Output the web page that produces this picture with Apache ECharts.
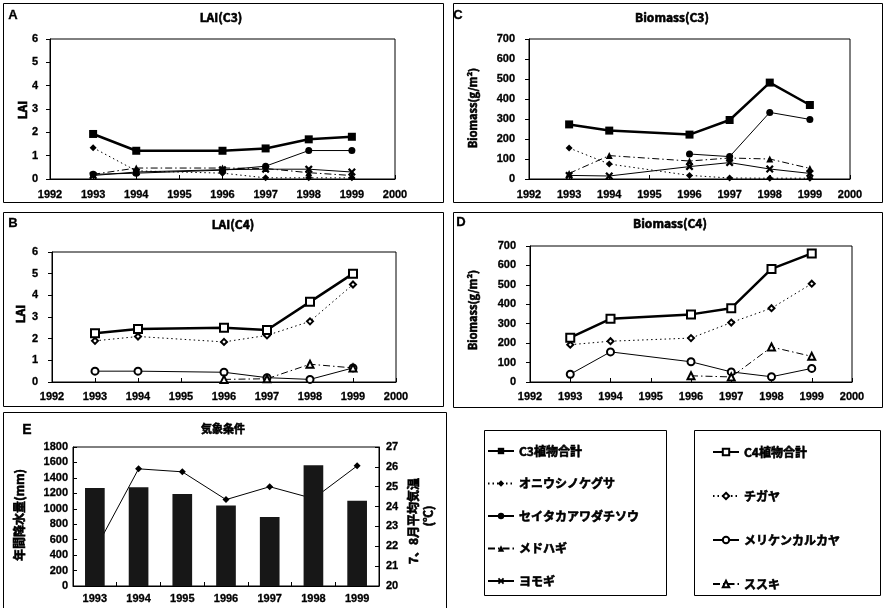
<!DOCTYPE html>
<html>
<head>
<meta charset="utf-8">
<script src="https://cdn.jsdelivr.net/npm/echarts@6/dist/echarts.min.js"></script>
<style>
html,body{margin:0;padding:0;background:#fff;}
#chart{width:885px;height:608px;}
</style>
</head>
<body>
<div id="chart"></div>
<script>
// ---------- DATA ----------
const years = [1993, 1994, 1996, 1997, 1998, 1999];
const xTickMin = 1992, xTickMax = 2000;

// LAI (C3)
const laiC3Total  = [1.93, 1.21, 1.21, 1.31, 1.70, 1.81];
const laiOniushi  = [1.34, 0.35, 0.25, 0.05, 0.05, 0.05];
const laiSeitaka  = [0.20, 0.25, 0.38, 0.55, 1.22, 1.22];
const laiMedohagi = [0.20, 0.47, 0.47, 0.45, 0.27, 0.15];
const laiYomogi   = [0.15, 0.30, 0.40, 0.42, 0.42, 0.30];

// Biomass (C3)
const bmC3Total  = [273, 242, 222, 295, 482, 370];
const bmOniushi  = [155, 75, 18, 5, 4, 4];
const bmSeitaka  = [null, null, 125, 112, 333, 298];
const bmMedohagi = [28, 117, 90, 105, 100, 53];
const bmYomogi   = [18, 15, 62, 82, 50, 28];

// LAI (C4)
const laiC4Total = [2.25, 2.45, 2.50, 2.40, 3.70, 5.00];
const laiChigaya = [1.90, 2.10, 1.85, 2.15, 2.80, 4.50];
const laiMeriken = [0.50, 0.50, 0.45, 0.20, 0.12, 0.65];
const laiSusuki  = [null, null, 0.12, 0.15, 0.82, 0.65];

// Biomass (C4)
const bmC4Total = [228, 325, 348, 380, 582, 662];
const bmChigaya = [192, 210, 226, 306, 380, 506];
const bmMeriken = [40, 155, 104, 52, 27, 70];
const bmSusuki  = [null, null, 32, 26, 180, 132];

// Weather (E)
const weatherYears = ['1993', '1994', '1995', '1996', '1997', '1998', '1999'];
const rainfall     = [1268, 1278, 1190, 1042, 892, 1563, 1104];
const temperature  = [21.8, 25.9, 25.75, 24.35, 25.0, 24.4, 26.05];

// Names
const N = {
  c3: 'C3植物合計', oni: 'オニウシノケグサ', sei: 'セイタカアワダチソウ', med: 'メドハギ', yom: 'ヨモギ',
  c4: 'C4植物合計', chi: 'チガヤ', mer: 'メリケンカルカヤ', sus: 'ススキ'
};

// ---------- STYLES ----------
const NUMFONT = '"Liberation Sans", Arial, sans-serif';
const JPFONT = '"Noto Sans CJK JP", sans-serif';
const dotted = [1.5, 3];
const dashdot = [7, 3, 1.5, 3];
const xPath = 'path://M2,0L5,3L8,0L10,2L7,5L10,8L8,10L5,7L2,10L0,8L3,5L0,2Z';

const STY = {
  c3:  {symbol: 'rect', symbolSize: 8, lineStyle: {color: '#000', width: 2.5, type: 'solid'}, itemStyle: {color: '#000'}},
  c4:  {symbol: 'emptyRect', symbolSize: 8, lineStyle: {color: '#000', width: 2.5, type: 'solid'}, itemStyle: {color: '#000', borderColor: '#000', borderWidth: 1.2}},
  oni: {symbol: 'diamond', symbolSize: 7, lineStyle: {color: '#000', width: 1, type: dotted}, itemStyle: {color: '#000'}},
  sei: {symbol: 'circle', symbolSize: 7, lineStyle: {color: '#000', width: 1, type: 'solid'}, itemStyle: {color: '#000'}},
  med: {symbol: 'triangle', symbolSize: 7, lineStyle: {color: '#000', width: 1, type: dashdot}, itemStyle: {color: '#000'}},
  yom: {symbol: xPath, symbolSize: 8, lineStyle: {color: '#000', width: 1, type: 'solid'}, itemStyle: {color: '#000'}},
  chi: {symbol: 'emptyDiamond', symbolSize: 6, lineStyle: {color: '#000', width: 1, type: dotted}, itemStyle: {color: '#000', borderColor: '#000', borderWidth: 1}},
  mer: {symbol: 'emptyCircle', symbolSize: 7, lineStyle: {color: '#000', width: 1, type: 'solid'}, itemStyle: {color: '#000', borderColor: '#000', borderWidth: 1}},
  sus: {symbol: 'emptyTriangle', symbolSize: 7, lineStyle: {color: '#000', width: 1, type: dashdot}, itemStyle: {color: '#000', borderColor: '#000', borderWidth: 1}}
};

function mk(key, gi, vals, z) {
  const data = years.map((y, i) => [y, vals[i]]).filter(d => d[1] !== null);
  return Object.assign({type: 'line', name: N[key], xAxisIndex: gi, yAxisIndex: gi, data: data, z: z || 3, animation: false}, JSON.parse(JSON.stringify(STY[key])));
}

// ---------- LAYOUT ----------
const grids = [
  {left: 50, top: 39, width: 345, height: 140},   // A
  {left: 529, top: 39, width: 321, height: 140},  // C
  {left: 52, top: 252, width: 344, height: 130},  // B
  {left: 530, top: 246, width: 322, height: 136}, // D
  {left: 73, top: 447, width: 306, height: 139}   // E
];
grids.forEach(g => { g.show = true; g.borderColor = '#000'; g.borderWidth = 1; g.backgroundColor = 'transparent'; });

const numLabel = (m) => ({fontFamily: NUMFONT, fontWeight: 'bold', fontSize: 11, color: '#000', margin: m,
  textBorderColor: '#000', textBorderWidth: 0.3, formatter: v => String(v)});

function yearAxis(gi, margin) {
  return {type: 'value', gridIndex: gi, min: xTickMin, max: xTickMax, interval: 1,
    axisLine: {show: true, lineStyle: {color: '#000'}}, axisTick: {show: true, inside: true, length: 4, lineStyle: {color: '#000'}},
    splitLine: {show: false}, axisLabel: numLabel(margin)};
}
function valAxis(gi, max, interval, margin) {
  return {type: 'value', gridIndex: gi, min: 0, max: max, interval: interval,
    axisLine: {show: true, lineStyle: {color: '#000'}}, axisTick: {show: true, inside: false, length: 4, lineStyle: {color: '#000'}},
    splitLine: {show: false}, axisLabel: numLabel(margin)};
}

const xAxes = [yearAxis(0, 10), yearAxis(1, 10), yearAxis(2, 9), yearAxis(3, 9),
  {type: 'category', gridIndex: 4, data: weatherYears, boundaryGap: true,
   axisLine: {show: true, lineStyle: {color: '#000'}}, axisTick: {show: true, inside: true, length: 4, lineStyle: {color: '#000'}},
   axisLabel: {fontFamily: NUMFONT, fontWeight: 'bold', fontSize: 11, color: '#000', margin: 7, textBorderColor: '#000', textBorderWidth: 0.3}}];

const yAxes = [valAxis(0, 6, 1, 12), valAxis(1, 700, 100, 14), valAxis(2, 6, 1, 14), valAxis(3, 700, 100, 14),
  {type: 'value', gridIndex: 4, min: 0, max: 1800, interval: 200,
   axisLine: {show: true, lineStyle: {color: '#000'}}, axisTick: {show: true, inside: true, length: 4, lineStyle: {color: '#000'}},
   splitLine: {show: false}, axisLabel: numLabel(5)},
  {type: 'value', gridIndex: 4, position: 'right', min: 20, max: 27, interval: 1,
   axisLine: {show: true, lineStyle: {color: '#000'}}, axisTick: {show: true, inside: true, length: 4, lineStyle: {color: '#000'}},
   splitLine: {show: false}, axisLabel: numLabel(7)}];

const series = [
  // A: LAI C3
  mk('oni', 0, laiOniushi), mk('sei', 0, laiSeitaka), mk('med', 0, laiMedohagi), mk('yom', 0, laiYomogi), mk('c3', 0, laiC3Total, 5),
  // C: Biomass C3
  mk('oni', 1, bmOniushi), mk('sei', 1, bmSeitaka), mk('med', 1, bmMedohagi), mk('yom', 1, bmYomogi), mk('c3', 1, bmC3Total, 5),
  // B: LAI C4
  mk('chi', 2, laiChigaya), mk('mer', 2, laiMeriken), mk('sus', 2, laiSusuki), mk('c4', 2, laiC4Total, 5),
  // D: Biomass C4
  mk('chi', 3, bmChigaya), mk('mer', 3, bmMeriken), mk('sus', 3, bmSusuki), mk('c4', 3, bmC4Total, 5),
  // E: weather
  {type: 'line', name: '7、8月平均気温', xAxisIndex: 4, yAxisIndex: 5, data: temperature, z: 2,
   symbol: 'diamond', symbolSize: 7, lineStyle: {color: '#000', width: 1}, itemStyle: {color: '#000'}},
  {type: 'bar', name: '年間降水量', xAxisIndex: 4, yAxisIndex: 4, data: rainfall, z: 3, barWidth: '45%',
   itemStyle: {color: '#171717'}}
];

function txt(x, y, text, size, rot, font, sw) {
  return {type: 'text', x: x, y: y, rotation: rot || 0, z: 100,
    style: {text: text, font: 'bold ' + size + 'px ' + (font || JPFONT), fill: '#000',
      stroke: '#000', lineWidth: (sw === undefined ? 0.6 : sw),
      align: 'center', verticalAlign: 'middle', textAlign: 'center', textVerticalAlign: 'middle'}};
}
function box(x1, y1, x2, y2) {
  return {type: 'rect', shape: {x: x1 + 0.5, y: y1 + 0.5, width: x2 - x1, height: y2 - y1}, z: 0,
    style: {fill: 'none', stroke: '#000', lineWidth: 1}};
}
const R = Math.PI / 2;
const graphic = [
  box(3, 3, 443, 202), box(453, 3, 882, 202), box(3, 212, 443, 406), box(453, 212, 882, 407), box(3, 412, 446, 640),
  box(484, 430, 666, 595), box(694, 430, 880, 595),
  txt(13, 15, 'A', 13, 0, NUMFONT, 0.3), txt(221, 17, 'LAI(C3)', 12),
  txt(458, 15, 'C', 13, 0, NUMFONT, 0.3), txt(672, 17, 'Biomass(C3)', 12),
  txt(13, 223, 'B', 13, 0, NUMFONT, 0.3), txt(233, 224, 'LAI(C4)', 12),
  txt(461, 222, 'D', 13, 0, NUMFONT, 0.3), txt(670, 223, 'Biomass(C4)', 12),
  txt(27, 430, 'E', 14, 0, NUMFONT, 0.3), txt(223, 429, '気象条件', 11),
  txt(22, 110, 'LAI', 12, R), txt(20, 314, 'LAI', 12, R),
  txt(473, 108, 'Biomass(g/m²)', 11, R), txt(473, 310, 'Biomass(g/m²)', 11, R),
  txt(19, 515, '年間降水量(mm)', 12, R),
  txt(413, 521, '7、8月平均気温', 12, R), txt(428, 516, '(℃)', 12, R)
];

const legendText = {fontFamily: JPFONT, fontWeight: 'bold', fontSize: 12, color: '#000', lineHeight: 14,
  textBorderColor: '#000', textBorderWidth: 0.6};
const legends = [
  {orient: 'vertical', left: 487, top: 444, padding: 0, itemWidth: 26, itemHeight: 8, itemGap: 18.5,
   selectedMode: false, textStyle: legendText, data: [N.c3, N.oni, N.sei, N.med, N.yom]},
  {orient: 'vertical', left: 712, top: 445, padding: 0, itemWidth: 26, itemHeight: 8, itemGap: 30,
   selectedMode: false, textStyle: legendText, data: [N.c4, N.chi, N.mer, N.sus]}
];

const chart = echarts.init(document.getElementById('chart'), null, {renderer: 'canvas'});
chart.setOption({
  animation: false,
  backgroundColor: '#fff',
  grid: grids,
  xAxis: xAxes,
  yAxis: yAxes,
  legend: legends,
  series: series,
  graphic: graphic
});
</script>
</body>
</html>
